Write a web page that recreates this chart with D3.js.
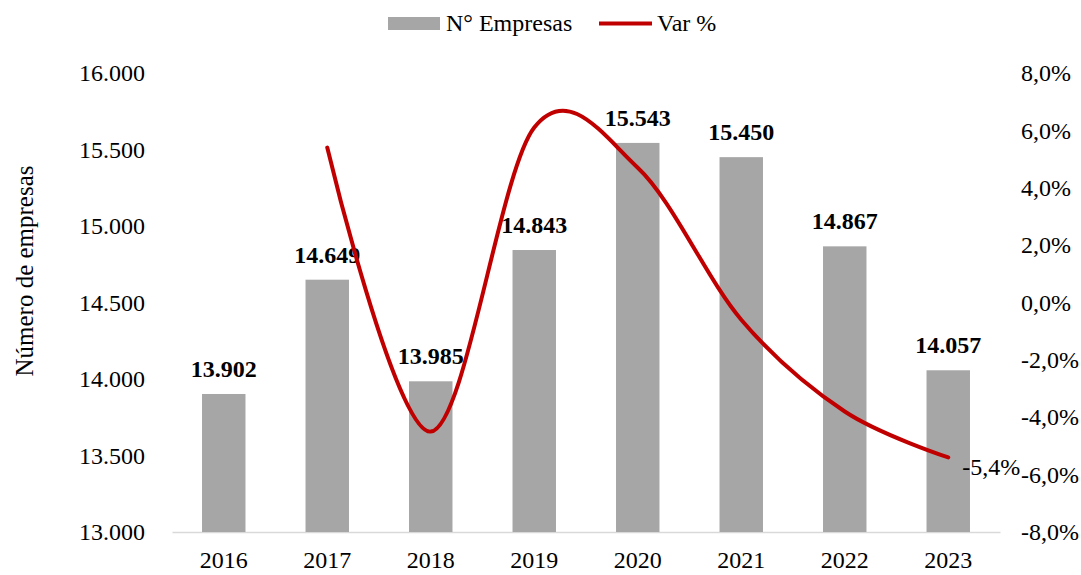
<!DOCTYPE html>
<html>
<head>
<meta charset="utf-8">
<script src="https://cdn.jsdelivr.net/npm/d3@7"></script>
<style>
  body { margin: 0; background: #fff; }
  text { font-family: "Liberation Serif", "Times New Roman", serif; fill: #000; }
</style>
</head>
<body>
<div id="chart"></div>
<script>
// data
const years = ["2016", "2017", "2018", "2019", "2020", "2021", "2022", "2023"];
const empresas = [13902, 14649, 13985, 14843, 15543, 15450, 14867, 14057];
const varPct = [null, 5.4, -4.5, 6.1, 4.7, -0.6, -3.8, -5.4];
const leftTicks = [13000, 13500, 14000, 14500, 15000, 15500, 16000];
const rightTicks = [-8, -6, -4, -2, 0, 2, 4, 6, 8];

const svgWidth = 1081;
const svgHeight = 575;
const margin = { top: 73, right: 81, bottom: 43, left: 172 };
const width = svgWidth - margin.left - margin.right;
const height = svgHeight - margin.top - margin.bottom;

const svg = d3.select("#chart").append("svg")
  .attr("width", svgWidth)
  .attr("height", svgHeight);

const g = svg.append("g")
  .attr("transform", `translate(${margin.left}, ${margin.top})`);

const x = d3.scaleBand().domain(years).range([0, width]).paddingInner(0.58).paddingOuter(0.29);
const yL = d3.scaleLinear().domain([13000, 16000]).range([height, 0]);
const yR = d3.scaleLinear().domain([-8, 8]).range([height, 0]);

// spanish style numbers: 14.649 and -5,4%
const fmtN = d3.formatLocale({ decimal: ",", thousands: ".", grouping: [3], currency: ["", ""], minus: "-" });
const fmtThousands = fmtN.format(",.0f");
const fmtPct = v => fmtN.format(".1f")(v) + "%";

// left axis
const leftAxis = d3.axisLeft(yL).tickValues(leftTicks).tickFormat(fmtThousands).tickSize(0).tickPadding(27);
g.append("g").call(leftAxis)
  .call(s => s.select(".domain").remove())
  .selectAll("text").style("font-size", "24px");

// right axis (labels left aligned)
const rightAxis = d3.axisRight(yR).tickValues(rightTicks).tickFormat(fmtPct).tickSize(0).tickPadding(21);
g.append("g").attr("transform", `translate(${width}, 0)`).call(rightAxis)
  .call(s => s.select(".domain").remove())
  .selectAll("text").style("font-size", "24px");

// bottom axis
const bottomAxis = d3.axisBottom(x).tickSize(0).tickPadding(19);
g.append("g").attr("transform", `translate(0, ${height})`).call(bottomAxis)
  .call(s => s.select(".domain").attr("stroke", "#d9d9d9").attr("stroke-width", 1.5))
  .selectAll("text").style("font-size", "24px");

// bars
g.selectAll("rect.bar").data(empresas).enter().append("rect")
  .attr("class", "bar")
  .attr("x", (d, i) => x(years[i]))
  .attr("y", d => yL(d))
  .attr("width", x.bandwidth())
  .attr("height", d => height - yL(d))
  .attr("fill", "#a6a6a6");

// bar labels
g.selectAll(null).data(empresas).enter().append("text")
  .attr("x", (d, i) => x(years[i]) + x.bandwidth() / 2)
  .attr("y", d => yL(d) - 17)
  .attr("text-anchor", "middle")
  .style("font-size", "24px")
  .style("font-weight", "bold")
  .text(d => fmtThousands(d));

// smoothed variation line
const linePts = varPct.map((v, i) => ({ year: years[i], v })).filter(d => d.v !== null);
const line = d3.line()
  .x(d => x(d.year) + x.bandwidth() / 2)
  .y(d => yR(d.v))
  .curve(d3.curveCardinal.tension(0));

g.append("path").datum(linePts)
  .attr("d", line)
  .attr("fill", "none")
  .attr("stroke", "#c00000")
  .attr("stroke-width", 4)
  .attr("stroke-linecap", "round");

// last value label
const last = linePts[linePts.length - 1];
g.append("text")
  .attr("x", x(last.year) + x.bandwidth() / 2 + 14)
  .attr("y", yR(last.v) + 18)
  .style("font-size", "24px")
  .text(fmtPct(last.v));

// y axis title
svg.append("text")
  .attr("transform", `translate(33, 271) rotate(-90)`)
  .attr("text-anchor", "middle")
  .style("font-size", "25px")
  .text("Número de empresas");

// legend
const legend = svg.append("g");
legend.append("rect").attr("x", 388).attr("y", 17).attr("width", 52).attr("height", 13).attr("fill", "#a6a6a6");
legend.append("text").attr("x", 446).attr("y", 31).style("font-size", "24px").text("N° Empresas");
legend.append("line").attr("x1", 599).attr("x2", 652).attr("y1", 23.5).attr("y2", 23.5)
  .attr("stroke", "#c00000").attr("stroke-width", 4);
legend.append("text").attr("x", 657).attr("y", 31).style("font-size", "24px").text("Var %");
</script>
</body>
</html>
